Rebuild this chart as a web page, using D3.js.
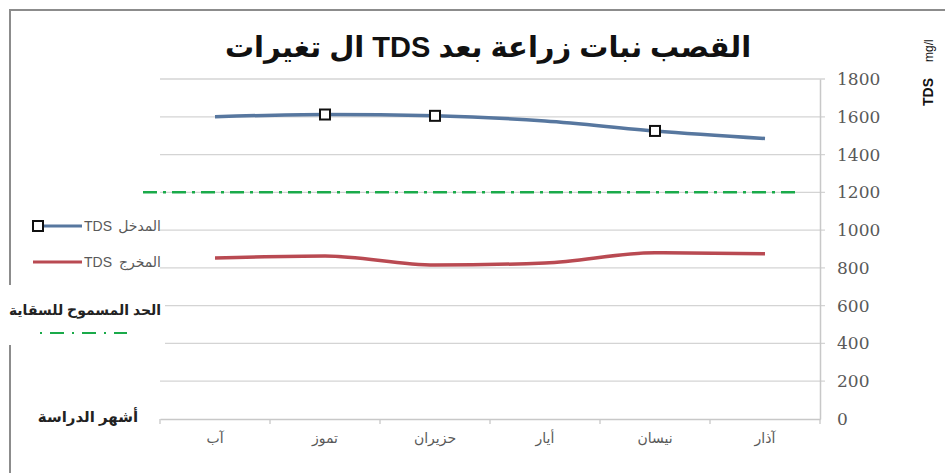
<!DOCTYPE html>
<html>
<head>
<meta charset="utf-8">
<script src="https://cdn.jsdelivr.net/npm/d3@7"></script>
<style>
  body { margin: 0; background: #fff; }
  svg { display: block; }
</style>
</head>
<body>
<div id="chart"></div>
<script>
// months, from first (March) to last (August), drawn right to left
const months = ['آذار', 'نيسان', 'أيار', 'حزيران', 'تموز', 'آب'];
const tdsIn = [1485, 1525, 1578, 1605, 1612, 1600];
const tdsOut = [875, 880, 826, 815, 863, 853];
// only some input points carry a marker
const markedMonths = ['نيسان', 'حزيران', 'تموز'];
const limit = 1200;
const yTicks = [0, 200, 400, 600, 800, 1000, 1200, 1400, 1600, 1800];

const W = 945, H = 473;
const plot = { left: 160, right: 820, top: 79, bottom: 419 };
const sansFont = 'Arial, "Liberation Sans", "DejaVu Sans", sans-serif';

const svg = d3.select('#chart').append('svg')
  .attr('width', W)
  .attr('height', H);

const x = d3.scaleBand().domain(months).range([plot.right, plot.left]);
const y = d3.scaleLinear().domain([0, 1800]).range([plot.bottom, plot.top]);

// outer frame (top and left edges only are visible)
svg.append('path')
  .attr('d', `M10,${H} L10,10 L${W},10`)
  .attr('fill', 'none')
  .attr('stroke', '#8c8c8c')
  .attr('stroke-width', 2);

// gridlines
svg.append('g')
  .selectAll('line')
  .data(yTicks.filter(d => d > 0))
  .join('line')
    .attr('x1', plot.left).attr('x2', plot.right + 5)
    .attr('y1', d => y(d)).attr('y2', d => y(d))
    .attr('stroke', '#d4d4d4')
    .attr('stroke-width', 1.3);

// right y axis
const yAxis = svg.append('g')
  .attr('transform', `translate(${plot.right},0)`)
  .call(d3.axisRight(y).tickValues(yTicks).tickFormat(d3.format('d')).tickSize(0).tickPadding(17));
yAxis.select('.domain').attr('stroke', '#c8c8c8').attr('stroke-width', 1.5);
yAxis.selectAll('text')
  .attr('fill', '#595959')
  .style('font-family', '"DejaVu Serif", serif')
  .style('font-size', '17px');

// x axis
const xAxis = svg.append('g')
  .attr('transform', `translate(0,${plot.bottom})`)
  .call(d3.axisBottom(x).tickSize(0).tickPadding(14));
xAxis.select('.domain').attr('stroke', '#c8c8c8').attr('stroke-width', 1.5);
xAxis.selectAll('text')
  .attr('fill', '#595959')
  .style('font-family', sansFont)
  .style('font-size', '14px');
// boundary tick marks between months
xAxis.append('g')
  .selectAll('line')
  .data(months.concat(['end']))
  .join('line')
    .attr('x1', (d, i) => i < months.length ? x(d) + x.bandwidth() : plot.left)
    .attr('x2', (d, i) => i < months.length ? x(d) + x.bandwidth() : plot.left)
    .attr('y1', 0).attr('y2', 5)
    .attr('stroke', '#c8c8c8')
    .attr('stroke-width', 1.3);

// limit line
svg.append('line')
  .attr('x1', plot.left - 17).attr('x2', plot.right - 20)
  .attr('y1', y(limit)).attr('y2', y(limit))
  .attr('stroke', '#1aaa4a')
  .attr('stroke-width', 2.5)
  .attr('stroke-dasharray', '14,6,3,6');

const line = d3.line()
  .x((d, i) => x(months[i]) + x.bandwidth() / 2)
  .y(d => y(d))
  .curve(d3.curveMonotoneX);

svg.append('path')
  .datum(tdsIn)
  .attr('d', line)
  .attr('fill', 'none')
  .attr('stroke', '#57779f')
  .attr('stroke-width', 3.5);

svg.append('path')
  .datum(tdsOut)
  .attr('d', line)
  .attr('fill', 'none')
  .attr('stroke', '#b94a52')
  .attr('stroke-width', 3.5);

svg.append('g')
  .selectAll('rect')
  .data(markedMonths)
  .join('rect')
    .attr('x', d => x(d) + x.bandwidth() / 2 - 5)
    .attr('y', d => y(tdsIn[months.indexOf(d)]) - 5)
    .attr('width', 10).attr('height', 10)
    .attr('fill', '#fff')
    .attr('stroke', '#111')
    .attr('stroke-width', 2);

// title: words laid out left to right as in the original
svg.append('text')
  .attr('x', 488).attr('y', 57)
  .attr('text-anchor', 'middle')
  .style('font-family', sansFont)
  .style('font-weight', 'bold')
  .style('font-size', '29px')
  .attr('fill', '#111')
  .text('تغيرات\u200E ال\u200E TDS بعد\u200E زراعة\u200E نبات\u200E القصب');

// y axis title
const yt = svg.append('text')
  .attr('transform', 'translate(933,106) rotate(-90)')
  .style('font-family', sansFont)
  .attr('fill', '#111');
yt.append('tspan').style('font-weight', 'bold').style('font-size', '14px').text('TDS');
yt.append('tspan').attr('dx', 16).style('font-size', '12px').text('mg/l');

// legend
const lg = svg.append('g');
lg.append('line').attr('x1', 38).attr('x2', 82).attr('y1', 226).attr('y2', 226)
  .attr('stroke', '#57779f').attr('stroke-width', 3);
lg.append('rect').attr('x', 33).attr('y', 221).attr('width', 10).attr('height', 10)
  .attr('fill', '#fff').attr('stroke', '#111').attr('stroke-width', 2);
lg.append('text').attr('x', 84).attr('y', 231)
  .style('font-family', sansFont).style('font-size', '14px').attr('fill', '#595959')
  .text('TDS');
lg.append('text').attr('x', 161).attr('y', 231).attr('text-anchor', 'end')
  .style('font-family', sansFont).style('font-size', '14px').attr('fill', '#595959')
  .text('المدخل');

lg.append('line').attr('x1', 33).attr('x2', 82).attr('y1', 262).attr('y2', 262)
  .attr('stroke', '#b94a52').attr('stroke-width', 3);
lg.append('text').attr('x', 84).attr('y', 267)
  .style('font-family', sansFont).style('font-size', '14px').attr('fill', '#595959')
  .text('TDS');
lg.append('text').attr('x', 161).attr('y', 267).attr('text-anchor', 'end')
  .style('font-family', sansFont).style('font-size', '14px').attr('fill', '#595959')
  .text('المخرج');

// limit legend box, drawn over the frame
lg.append('rect').attr('x', 0).attr('y', 285).attr('width', 165).attr('height', 60)
  .attr('fill', '#fff');
lg.append('text').attr('x', 85).attr('y', 315).attr('text-anchor', 'middle')
  .attr('direction', 'rtl')
  .style('font-family', sansFont).style('font-weight', 'bold').style('font-size', '14px')
  .attr('fill', '#222')
  .text('الحد المسموح للسقاية');
lg.append('line').attr('x1', 40).attr('x2', 127).attr('y1', 333).attr('y2', 333)
  .attr('stroke', '#1aaa4a').attr('stroke-width', 2)
  .attr('stroke-dasharray', '2,8,14,8');

// x axis title
svg.append('text')
  .attr('x', 88).attr('y', 422).attr('text-anchor', 'middle')
  .attr('direction', 'rtl')
  .style('font-family', sansFont).style('font-weight', 'bold').style('font-size', '15px')
  .attr('fill', '#222')
  .text('أشهر الدراسة');
</script>
</body>
</html>
